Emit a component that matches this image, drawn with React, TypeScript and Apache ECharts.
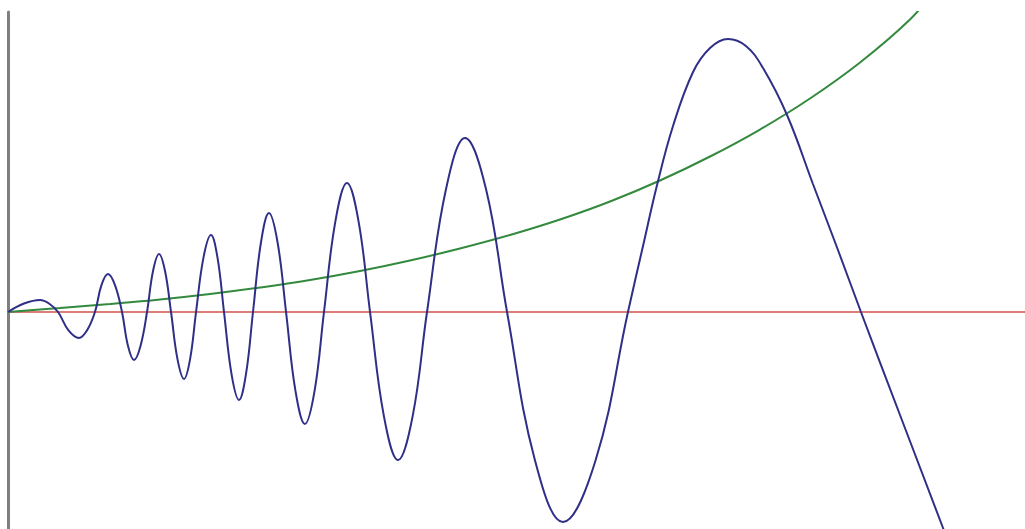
import React, { useEffect, useRef } from "react";
import * as echarts from "echarts";

// Oscillating (blue) curve: points (peaks, troughs, zero crossings, mid-slopes)
const blueX = [
  0, 0.157, 0.315, 0.403, 0.492, 0.595, 0.698, 0.777, 0.855, 0.919, 0.983, 1.052, 1.121,
  1.18, 1.239, 1.303, 1.367, 1.426, 1.485, 1.544, 1.603, 1.667, 1.731, 1.79, 1.849,
  1.922, 1.996, 2.06, 2.124, 2.198, 2.271, 2.34, 2.409, 2.488, 2.566, 2.65, 2.734,
  2.827, 2.92, 3.014, 3.107, 3.22, 3.333, 3.446, 3.56, 3.697, 3.835, 3.978, 4.12,
  4.307, 4.494, 4.7, 4.907, 5.182, 5.457, 5.777, 6.096, 6.244, 6.382, 6.539, 6.736,
  6.903, 7.08, 7.256, 7.424, 7.66, 7.915, 8.161, 8.387, 8.771, 9.194, 9.361,
];
const blueY = [
  0, 0.283, 0.4, 0.283, 0, -0.613, -0.867, -0.613, 0, 0.897, 1.267, 0.897, 0,
  -1.13, -1.6, -1.13, 0, 1.367, 1.933, 1.367, 0, -1.58, -2.233, -1.58, 0,
  1.813, 2.567, 1.813, 0, -2.073, -2.933, -2.073, 0, 2.333, 3.3, 2.333, 0,
  -2.64, -3.733, -2.64, 0, 3.04, 4.3, 3.04, 0, -3.487, -4.933, -3.487, 0,
  4.1, 5.8, 4.1, 0, -4.95, -7.0, -4.95, 0, 2.2, 4.233, 6.2, 8.0,
  8.8, 9.1, 8.867, 8.133, 6.567, 4.267, 2.067, 0, -3.433, -7.2, -8.7,
];

// Growing (green) curve
const greenX = [
  0, 0.511, 1.003, 1.495, 1.986, 2.478, 2.97, 3.461, 3.953, 4.444, 4.936, 5.428,
  5.92, 6.411, 6.903, 7.394, 7.886, 8.378, 8.869, 9.115,
];
const greenY = [
  0, 0.133, 0.267, 0.417, 0.6, 0.817, 1.067, 1.367, 1.717, 2.117, 2.567, 3.083,
  3.683, 4.383, 5.183, 6.083, 7.117, 8.317, 9.75, 10.733,
];

// Zero (red) line
const redX = [0, 10];
const redY = [0, 0];

const X_MIN = 0;
const X_MAX = 10;
const Y_MIN = -7.233;
const Y_MAX = 10;

function zip(xs: number[], ys: number[]) {
  return xs.map((x, i) => [x, ys[i]]);
}

export default function App() {
  const ref = useRef<HTMLDivElement>(null);
  useEffect(() => {
    if (!ref.current) return;
    const chart = echarts.init(ref.current, undefined, { renderer: "svg" });
    chart.setOption({
      animation: false,
      backgroundColor: "#ffffff",
      grid: { left: 8, right: 0, top: 12, bottom: 0, containLabel: false },
      xAxis: {
        type: "value",
        min: X_MIN,
        max: X_MAX,
        show: false,
      },
      yAxis: {
        type: "value",
        min: Y_MIN,
        max: Y_MAX,
        axisLine: { show: true, lineStyle: { color: "#7f7f7f", width: 3 } },
        axisTick: { show: false },
        axisLabel: { show: false },
        splitLine: { show: false },
      },
      series: [
        {
          type: "line",
          data: zip(redX, redY),
          symbol: "none",
          lineStyle: { color: "#dc7d78", width: 2 },
          z: 1,
        },
        {
          type: "line",
          data: zip(greenX, greenY),
          symbol: "none",
          smooth: 0.4,
          lineStyle: { color: "#338a3e", width: 2 },
          z: 2,
        },
        {
          type: "line",
          data: zip(blueX, blueY),
          symbol: "none",
          smooth: 0.4,
          lineStyle: { color: "#2f2f88", width: 2 },
          z: 3,
        },
      ],
    });
    return () => chart.dispose();
  }, []);
  return (
    <div
      ref={ref}
      style={{ position: "fixed", left: 0, top: 0, width: 1025, height: 529 }}
    />
  );
}
